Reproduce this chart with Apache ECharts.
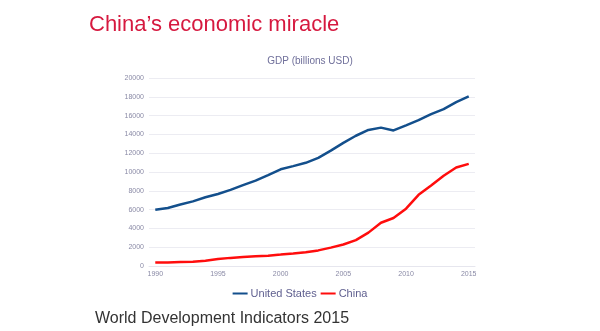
<!DOCTYPE html>
<html><head><meta charset="utf-8">
<script src="https://cdn.jsdelivr.net/npm/echarts@6/dist/echarts.min.js"></script>
<style>html,body{margin:0;padding:0;background:#fff;}#c{width:600px;height:331px;}</style>
</head><body><div id="c"></div>
<script>
const years = ['1990','1991','1992','1993','1994','1995','1996','1997','1998','1999','2000','2001','2002','2003','2004','2005','2006','2007','2008','2009','2010','2011','2012','2013','2014','2015'];
const usGDP = [5980,6174,6539,6879,7309,7664,8100,8609,9089,9661,10285,10622,10978,11511,12275,13094,13856,14478,14719,14419,14964,15518,16155,16692,17428,18037];
const chinaGDP = [361,383,427,445,564,734,864,962,1029,1094,1211,1339,1471,1660,1955,2286,2752,3552,4598,5110,6101,7573,8561,9607,10482,10866];
const seriesNames = ['United States','China'];

const chart = echarts.init(document.getElementById('c'));
chart.setOption({
  animation:false,
  title:[
    {text:'China\u2019s economic miracle', left:84, top:9, textStyle:{fontFamily:'Liberation Sans, Arial', fontSize:22, fontWeight:'normal', color:'#d6193f'}},
    {text:'GDP (billions USD)', left:305, top:51, textAlign:'center', textStyle:{fontFamily:'Liberation Sans, Arial', fontSize:10, fontWeight:'normal', color:'#6f6f9a'}},
    {text:'World Development Indicators 2015', left:90, top:306, textStyle:{fontFamily:'Liberation Sans, Arial', fontSize:16, fontWeight:'normal', color:'#333333'}}
  ],
  legend:{data:seriesNames, left:'center', top:283, itemWidth:15, itemHeight:2, itemGap:4, icon:'rect',
    textStyle:{fontFamily:'Liberation Sans, Arial', fontSize:11, color:'#5f5f8f', padding:[0,0,0,-2]}},
  grid:{left:149, right:125, top:78, bottom:65},
  xAxis:{type:'category', data:years, boundaryGap:true,
    axisLine:{lineStyle:{color:'#e6e6ee'}}, axisTick:{show:false},
    axisLabel:{interval:4, fontSize:7, color:'#8a8aa6', margin:5, fontFamily:'Liberation Sans, Arial'}},
  yAxis:{type:'value', min:0, max:20000, interval:2000,
    axisLine:{show:false}, axisTick:{show:false},
    splitLine:{lineStyle:{color:'#ececf2'}},
    axisLabel:{fontSize:7, color:'#8a8aa6', margin:5, fontFamily:'Liberation Sans, Arial', formatter:function(v){return String(v);}}},
  series:[
    {name:seriesNames[0], type:'line', data:usGDP, symbol:'none', lineStyle:{width:2.5, color:'#134f8c'}, itemStyle:{color:'#134f8c'}},
    {name:seriesNames[1], type:'line', data:chinaGDP, symbol:'none', lineStyle:{width:2.5, color:'#ff0d0d'}, itemStyle:{color:'#ff0d0d'}}
  ]
});
</script></body></html>
